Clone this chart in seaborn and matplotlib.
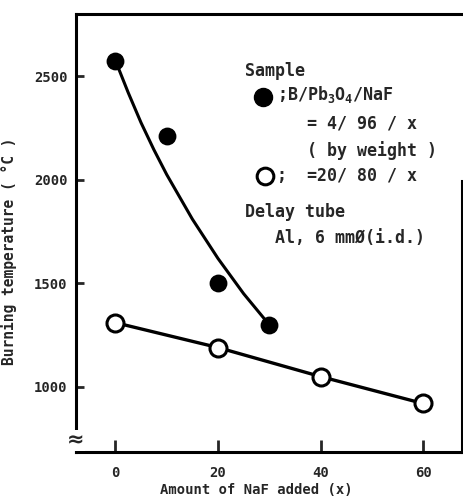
import matplotlib
matplotlib.use("Agg")
import matplotlib.pyplot as plt
import seaborn as sns

# values
naf_filled = [0, 10, 20, 30]
temp_filled = [2575, 2210, 1500, 1300]

# hand drawn trend curve for the filled series
curve_x = [0, 2.5, 5, 7.5, 10, 15, 20, 25, 30]
curve_y = [2575, 2420, 2275, 2145, 2025, 1810, 1620, 1450, 1300]

naf_open = [0, 20, 40, 60]
temp_open = [1310, 1190, 1050, 920]

x_ticks = [0, 20, 40, 60]
y_ticks = [1000, 1500, 2000, 2500]

sns.set_style("ticks")
plt.rcParams['font.family'] = ['DejaVu Sans Mono', 'DejaVu Sans']
plt.rcParams['font.weight'] = 'bold'
plt.rcParams['mathtext.fontset'] = 'custom'
plt.rcParams['mathtext.rm'] = 'DejaVu Sans Mono:bold'
plt.rcParams['mathtext.it'] = 'DejaVu Sans Mono:bold'

fig = plt.figure(figsize=(4.63, 4.98), dpi=100)
ax = fig.add_axes([0.164, 0.0924, 0.834, 0.8796])

# lines first, markers on top
sns.lineplot(x=curve_x, y=curve_y, ax=ax, color='black', linewidth=2.2, zorder=2)
sns.lineplot(x=naf_open, y=temp_open, ax=ax, color='black', linewidth=2.4, zorder=2)
sns.scatterplot(x=naf_filled, y=temp_filled, ax=ax, s=165, color='black',
                edgecolor='black', linewidth=0, zorder=3)
sns.scatterplot(x=naf_open, y=temp_open, ax=ax, s=150, color='white',
                edgecolor='black', linewidth=2.2, zorder=3)

ax.set_xlim(-7.7, 67.6)
ax.set_ylim(686, 2800)
ax.set_xticks(x_ticks)
ax.set_yticks(y_ticks)
ax.tick_params(axis='x', direction='in', length=8.5, width=2, pad=10, labelsize=10)
ax.tick_params(axis='y', direction='in', length=6, width=2, pad=6, labelsize=10)
for lab in ax.get_xticklabels() + ax.get_yticklabels():
    lab.set_fontweight('bold')

for side in ['left', 'bottom', 'top', 'right']:
    ax.spines[side].set_linewidth(2.2)
    ax.spines[side].set_color('black')
ax.spines['right'].set_bounds(686, 1995)

ax.set_xlabel('Amount of NaF added (x)', fontsize=10, fontweight='bold')
ax.set_ylabel('Burning temperature ( \u00b0C )', fontsize=10.5, fontweight='bold')
ax.xaxis.set_label_coords(0.466, -0.070)
ax.yaxis.set_label_coords(-0.153, 0.459)

# axis break mark
ax.text(0, 0.027, '\u2248', transform=ax.transAxes, ha='center', va='center',
        fontsize=15, fontweight='bold', family='DejaVu Sans', clip_on=False,
        bbox=dict(facecolor='white', edgecolor='none', pad=0.5))

# key drawn inside the plot
ax.plot([0.484], [0.811], 'o', color='black', markersize=13, transform=ax.transAxes)
ax.plot([0.490], [0.630], 'o', markerfacecolor='white', markeredgecolor='black',
        markeredgewidth=2.2, markersize=12, transform=ax.transAxes)

fs = 12
ax.text(0.438, 0.870, 'Sample', transform=ax.transAxes, fontsize=fs, va='center')
ax.text(0.521, 0.815, ';B/Pb$_3$O$_4$/NaF', transform=ax.transAxes, fontsize=fs, va='center')
ax.text(0.598, 0.751, '= 4/ 96 / x', transform=ax.transAxes, fontsize=fs, va='center')
ax.text(0.598, 0.689, '( by weight )', transform=ax.transAxes, fontsize=fs, va='center')
ax.text(0.521, 0.630, ';  =20/ 80 / x', transform=ax.transAxes, fontsize=fs, va='center')
ax.text(0.438, 0.548, 'Delay tube', transform=ax.transAxes, fontsize=fs, va='center')
ax.text(0.516, 0.489, 'Al, 6 mm\u00d8(i.d.)', transform=ax.transAxes, fontsize=fs, va='center')

fig.savefig('out.png', dpi=100)
